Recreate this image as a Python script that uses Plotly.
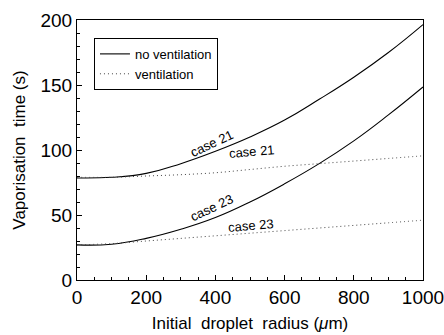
import plotly.graph_objects as go

radius = [0, 100, 200, 300, 400, 500, 600, 700, 800, 900, 1000]
noVent_case21 = [78.5, 79, 82, 89.5, 99, 110, 123, 139, 156, 175, 196.5]
noVent_case23 = [27, 27.5, 32, 39, 48, 60, 74, 89.5, 107, 127, 148.5]
vent_case21 = [79, 79, 80, 81, 82.5, 85, 87.5, 89.5, 91.5, 93.5, 95.5]
vent_case23 = [27, 28, 30, 32, 34, 36, 38, 40, 42, 44, 46]

FONT = "Liberation Sans, Arial, sans-serif"
solid = dict(color="black", width=1.1, shape="spline", smoothing=1.3)
dotted = dict(color="#444", width=1, dash="1px,3px", shape="spline")

fig = go.Figure()
fig.add_trace(go.Scatter(x=radius, y=noVent_case21, mode="lines", line=solid, name="no ventilation"))
fig.add_trace(go.Scatter(x=radius, y=vent_case21, mode="lines", line=dotted, name="ventilation"))
fig.add_trace(go.Scatter(x=radius, y=noVent_case23, mode="lines", line=solid, showlegend=False))
fig.add_trace(go.Scatter(x=radius, y=vent_case23, mode="lines", line=dotted, showlegend=False))

labels = [
    (389, 105, "case 21", -25),
    (506, 98.5, "case 21", -5),
    (391, 55.5, "case 23", -25),
    (503, 42, "case 23", -5),
]
for lx, ly, txt, ang in labels:
    fig.add_annotation(x=lx, y=ly, text=txt, showarrow=False, textangle=ang,
                       font=dict(family=FONT, size=13, color="black"))

axis_common = dict(
    showline=True, linecolor="black", linewidth=1, mirror=True, automargin=False,
    ticks="inside", ticklen=5, tickcolor="black", showgrid=False, zeroline=False,
    ticklabeloverflow="allow",
    tickfont=dict(family=FONT, size=19, color="black"),
)
fig.update_xaxes(range=[0, 1000], tickvals=[0, 200, 400, 600, 800, 1000],
                 minor=dict(dtick=50, ticks="inside", ticklen=3, tickcolor="black"),
                 title=dict(text="Initial  droplet  radius (<i>μ</i>m)", font=dict(family=FONT, size=17, color="black"), standoff=10),
                 **axis_common)
fig.update_yaxes(range=[0, 200], tickvals=[0, 50, 100, 150, 200],
                 minor=dict(dtick=10, ticks="inside", ticklen=3, tickcolor="black"),
                 title=dict(text="Vaporisation  time (s)", font=dict(family=FONT, size=17, color="black"), standoff=10),
                 **axis_common)

fig.update_layout(
    width=444, height=335,
    margin=dict(l=77, r=21, t=20, b=55),
    plot_bgcolor="white", paper_bgcolor="white",
    font=dict(family=FONT, color="black"),
    legend=dict(x=0.049, y=0.931, xanchor="left", yanchor="top",
                bordercolor="black", borderwidth=1, bgcolor="white",
                font=dict(family=FONT, size=13, color="black"),
                tracegroupgap=0),
)

fig.write_html("out.html")
